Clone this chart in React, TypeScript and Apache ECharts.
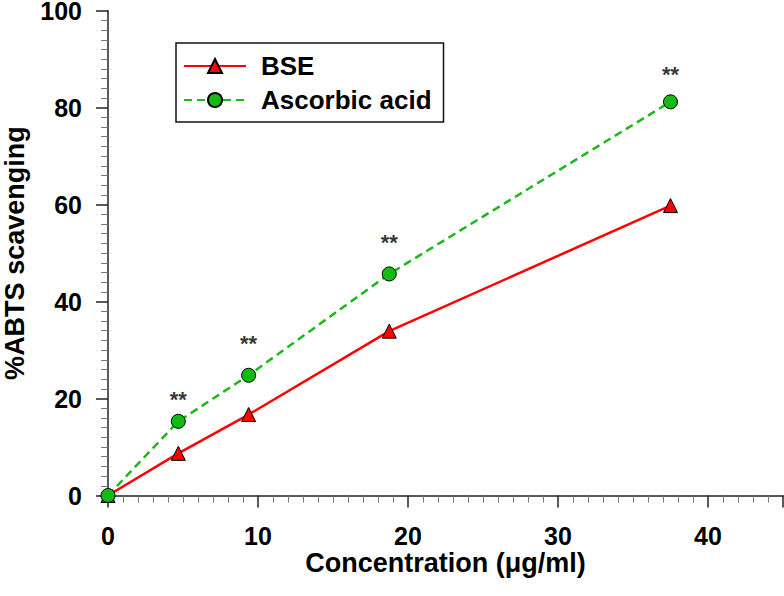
import React, { useEffect, useRef } from "react";
import * as echarts from "echarts";

const concentrations = [0, 4.6875, 9.375, 18.75, 37.5];
const bseValues = [0, 8.7, 16.7, 33.9, 59.8];
const ascorbicValues = [0, 15.3, 24.8, 45.7, 81.2];
const sigX = [4.6875, 9.375, 18.75, 37.5];
const sigY = [20.3, 31.7, 52.6, 87.2];
const sigMarks = ["**", "**", "**", "**"];
const xTicks = { min: 0, max: 45, interval: 10 };
const yTicks = { min: 0, max: 100, interval: 20 };

const FONT = "'Liberation Sans', Arial, sans-serif";

export default function App() {
  const ref = useRef<HTMLDivElement>(null);
  useEffect(() => {
    if (!ref.current) return;
    const chart = echarts.init(ref.current, undefined, { renderer: "svg" });
    const axisCommon = {
      type: "value",
      axisLine: { show: true, onZero: false, lineStyle: { color: "#222", width: 1.5 } },
      axisTick: { show: true, inside: false, length: 12, lineStyle: { color: "#222", width: 1.5 } },
      minorTick: { show: true, splitNumber: 10, length: 7, lineStyle: { color: "#777", width: 1 } },
      splitLine: { show: false },
      minorSplitLine: { show: false },
      nameLocation: "middle",
      nameMoveOverlap: false,
    };
    chart.setOption({
      animation: false,
      grid: {
        left: 108,
        right: 1,
        top: 10.7,
        bottom: 100.5,
        containLabel: false,
        outerBoundsMode: "none",
      },
      legend: {
        data: ["BSE", "Ascorbic acid"],
        orient: "vertical",
        left: 176,
        top: 43,
        itemWidth: 62,
        itemHeight: 17.5,
        itemGap: 8,
        padding: [10, 12, 9, 7],
        borderColor: "#111",
        borderWidth: 1.5,
        borderRadius: 0,
        textStyle: {
          fontFamily: FONT,
          fontWeight: "bold",
          fontSize: 26,
          color: "#000",
          padding: [0, 0, 0, 10],
        },
      },
      xAxis: {
        ...axisCommon,
        min: xTicks.min,
        max: xTicks.max,
        interval: xTicks.interval,
        name: "Concentration (\u03bcg/ml)",
        nameGap: 56,
        nameTextStyle: { fontFamily: FONT, fontWeight: "bold", fontSize: 27, lineHeight: 22, color: "#000" },
        axisLabel: {
          margin: 30.5,
          showMaxLabel: false,
          fontFamily: FONT,
          fontWeight: "bold",
          fontSize: 25,
          lineHeight: 20,
          color: "#000",
        },
      },
      yAxis: {
        ...axisCommon,
        min: yTicks.min,
        max: yTicks.max,
        interval: yTicks.interval,
        name: "%ABTS scavenging",
        nameGap: 80,
        nameTextStyle: { fontFamily: FONT, fontWeight: "bold", fontSize: 27, color: "#000" },
        axisLabel: {
          margin: 26,
          fontFamily: FONT,
          fontWeight: "bold",
          fontSize: 25,
          lineHeight: 20,
          color: "#000",
        },
      },
      series: [
        {
          name: "BSE",
          type: "line",
          clip: false,
          data: concentrations.map((x, i) => [x, bseValues[i]]),
          symbol: "triangle",
          symbolSize: 14,
          lineStyle: { color: "#ff0000", width: 2.5, type: "solid" },
          itemStyle: { color: "#ff0000", borderColor: "#000", borderWidth: 1 },
          z: 3,
        },
        {
          name: "Ascorbic acid",
          type: "line",
          clip: false,
          data: concentrations.map((x, i) => [x, ascorbicValues[i]]),
          symbol: "circle",
          symbolSize: 14,
          lineStyle: { color: "#1cb81c", width: 2.5, type: [8, 5] },
          itemStyle: { color: "#11bb11", borderColor: "#000", borderWidth: 1 },
          z: 4,
        },
        {
          name: "sig",
          type: "scatter",
          clip: false,
          data: sigX.map((x, i) => [x, sigY[i]]),
          symbol: "circle",
          symbolSize: 1,
          itemStyle: { color: "rgba(0,0,0,0)" },
          silent: true,
          label: {
            show: true,
            position: "inside",
            offset: [0, 2],
            formatter: (p: any) => sigMarks[p.dataIndex],
            fontFamily: FONT,
            fontWeight: "bold",
            fontSize: 22,
            color: "#000",
          },
          z: 5,
        },
      ],
    });
    return () => chart.dispose();
  }, []);
  return (
    <div
      ref={ref}
      style={{ position: "fixed", left: 0, top: 0, width: 784, height: 596, background: "#fff" }}
    />
  );
}
